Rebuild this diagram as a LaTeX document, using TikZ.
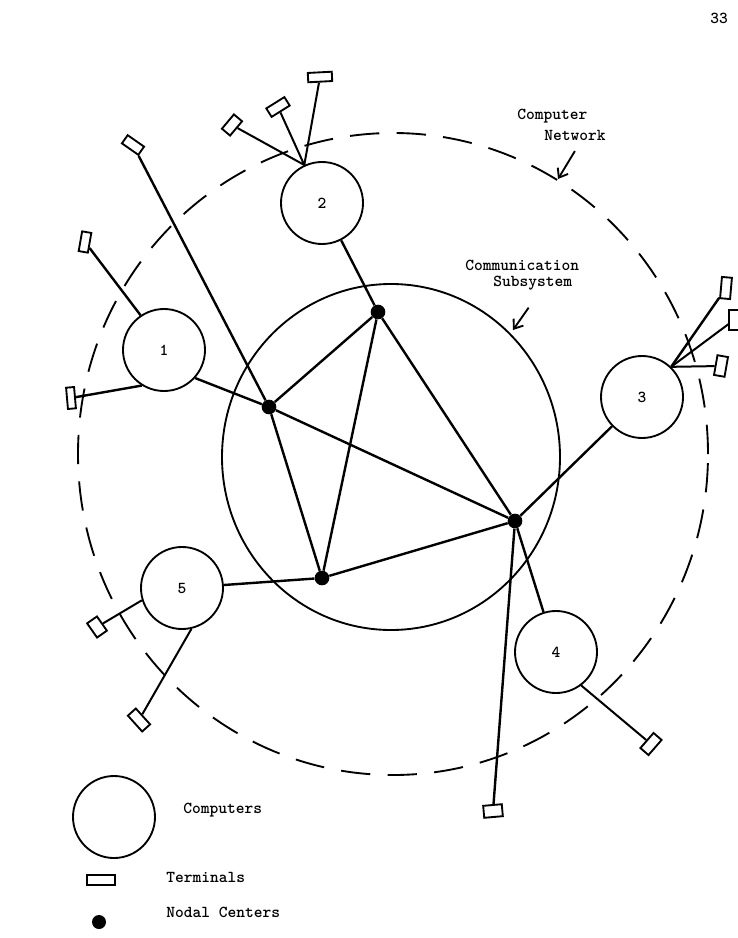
\documentclass[tikz,border=0pt]{standalone}
\usetikzlibrary{arrows.meta}
\newcommand\dgmfont{\fontsize{12.5}{15}\selectfont\ttfamily\bfseries}
\begin{document}
\begin{tikzpicture}[x=0.75pt,y=-0.75pt,
  comp/.style={circle,draw,line width=1.4pt,minimum size=61.5pt,inner sep=0pt,font=\dgmfont},
  term/.style={rectangle,draw,line width=1.4pt,minimum width=15pt,minimum height=7pt,inner sep=0pt},
  nodal/.style={circle,fill,minimum size=11pt,inner sep=0pt},
  link/.style={line width=1.8pt},
  tlink/.style={line width=1.5pt},
  lbl/.style={font=\dgmfont,anchor=west,inner sep=0pt},
  pointer/.style={line width=1.4pt,-{Straight Barb[length=6pt,width=9pt,line width=1.4pt]}}
]
\path[use as bounding box] (0,0) rectangle (738,938);

% page number
\node[font=\dgmfont,inner sep=0pt] (pg) at (719,18) {33};

% outer dashed circle (computer network)
\draw[line width=1.4pt,dash pattern=on 22pt off 13pt] (393,454) ellipse [x radius=236.25pt,y radius=240.75pt];
% inner circle (communication subsystem)
\draw[line width=1.4pt] (391,457) ellipse [x radius=126.75pt,y radius=129.75pt];

% nodal centers
\node[nodal] (A) at (378,312) {};
\node[nodal] (B) at (269,407) {};
\node[nodal] (C) at (322,578) {};
\node[nodal] (D) at (515,521) {};

% computers
\node[comp] (c1) at (164,350) {1};
\node[comp] (c2) at (322,203) {2};
\node[comp] (c3) at (642,397) {3};
\node[comp] (c4) at (556,652) {4};
\node[comp] (c5) at (182,588) {5};

% terminals
\node[term,minimum width=14pt,minimum height=8pt,rotate=50] (T2a) at (232,125) {};
\node[term,minimum width=16pt,minimum height=7.5pt,rotate=32] (T2b) at (278,107) {};
\node[term,minimum width=18pt,minimum height=7pt,rotate=3] (T2c) at (320,77) {};
\node[term,minimum width=15pt,minimum height=7.5pt,rotate=-35] (TB) at (133,145) {};
\node[term,minimum width=15pt,minimum height=7pt,rotate=80] (T1a) at (85,242) {};
\node[term,minimum width=16pt,minimum height=6pt,rotate=95] (T1b) at (71,398) {};
\node[term,minimum width=16pt,minimum height=7.5pt,rotate=85] (T3a) at (726,288) {};
\node[term,minimum width=15pt,minimum height=7pt,rotate=90] (T3b) at (734,320) {};
\node[term,minimum width=15pt,minimum height=8pt,rotate=80] (T3c) at (721,366) {};
\node[term,minimum width=13pt,minimum height=9pt,rotate=-55] (T5a) at (97,627) {};
\node[term,minimum width=16pt,minimum height=8pt,rotate=-48] (T5b) at (139,720) {};
\node[term,minimum width=15pt,minimum height=8pt,rotate=49] (T4) at (651,744) {};
\node[term,minimum width=14pt,minimum height=9pt,rotate=5] (TD) at (493,811) {};

% subsystem links
\draw[link] (A) -- (B);
\draw[link] (A) -- (C);
\draw[link] (A) -- (D);
\draw[link] (B) -- (C);
\draw[link] (B) -- (D);
\draw[link] (C) -- (D);

% computer to node links
\draw[link] (c2) -- (A);
\draw[link] (c1.-42) -- (B);
\draw[link] (c5) -- (C);
\draw[link] (c3) -- (D);
\draw[link] (c4) -- (D);

% terminal links
\draw[link] (B) -- (TB);
\draw[link] (D) -- (TD);
\draw[tlink] (c2.115) -- (T2a);
\draw[tlink] (c2.115) -- (T2b);
\draw[tlink] (c2.115) -- (T2c);
\draw[link] (c1.124) -- (T1a);
\draw[link] (c1.-122) -- (T1b);
\draw[link] (c3.46) -- (T3a);
\draw[tlink] (c3.46) -- (T3b);
\draw[tlink] (c3.46) -- (T3c);
\draw[tlink] (c5.-163) -- (T5a);
\draw[tlink] (c5.-77) -- (T5b);
\draw[tlink] (c4.-53) -- (T4);

% labels with pointers
\node[lbl] (netA) at (517,116) {Computer};
\node[lbl] (netB) at (544,135) {Network};
\coordinate (netTip) at (558,179);
\draw[pointer] ([yshift=-8pt]netB.south) -- (netTip);

\node[lbl] (subA) at (465,265) {Communication};
\node[lbl] (subB) at (493,283) {Subsystem};
\coordinate (subTip) at (513,330);
\draw[pointer] ([xshift=-3pt,yshift=-13pt]subB.south) -- (subTip);

% legend
\node[comp] (lc) at (114,817) {};
\node[lbl] (lcT) at (183,810) {Computers};
\node[term,minimum width=21.5pt,minimum height=8pt] (lt) at (101,880) {};
\node[lbl] (ltT) at (166,877) {Terminals};
\node[nodal,minimum size=10.5pt] (ln) at (99,922) {};
\node[lbl] (lnT) at (166,912) {Nodal Centers};
\end{tikzpicture}
\end{document}
